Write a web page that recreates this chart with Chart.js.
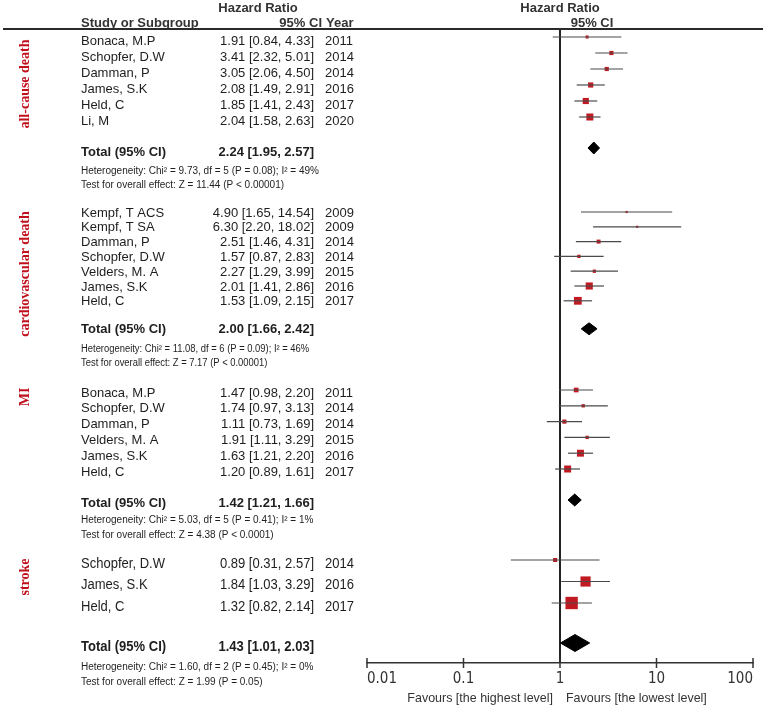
<!DOCTYPE html>
<html>
<head>
<meta charset="utf-8">
<script src="https://cdn.jsdelivr.net/npm/chart.js@4"></script>
<style>
  body { margin: 0; background: #fff; }
  canvas { display: block; }
</style>
</head>
<body>
<canvas id="forest" width="767" height="710"></canvas>
<script>
// ---- data ----
const GROUP_NAMES = ["all-cause death", "cardiovascular death", "MI", "stroke"];

const allCauseStudies = ["Bonaca, M.P", "Schopfer, D.W", "Damman, P", "James, S.K", "Held, C", "Li, M"];
const allCauseYears = [2011, 2014, 2014, 2016, 2017, 2020];
const allCauseHR = [1.91, 3.41, 3.05, 2.08, 1.85, 2.04];
const allCauseLow = [0.84, 2.32, 2.06, 1.49, 1.41, 1.58];
const allCauseHigh = [4.33, 5.01, 4.50, 2.91, 2.43, 2.63];
const allCauseWeight = [6, 11, 11, 17, 24, 31];
const allCauseTotal = [2.24, 1.95, 2.57];
const allCauseHet = "Heterogeneity: Chi² = 9.73, df = 5 (P = 0.08); I² = 49%";
const allCauseTest = "Test for overall effect: Z = 11.44 (P < 0.00001)";

const cvStudies = ["Kempf, T ACS", "Kempf, T SA", "Damman, P", "Schopfer, D.W", "Velders, M. A", "James, S.K", "Held, C"];
const cvYears = [2009, 2009, 2014, 2014, 2015, 2016, 2017];
const cvHR = [4.90, 6.30, 2.51, 1.57, 2.27, 2.01, 1.53];
const cvLow = [1.65, 2.20, 1.46, 0.87, 1.29, 1.41, 1.09];
const cvHigh = [14.54, 18.02, 4.31, 2.83, 3.99, 2.86, 2.15];
const cvWeight = [3, 3, 10, 7, 7, 32, 38];
const cvTotal = [2.00, 1.66, 2.42];
const cvHet = "Heterogeneity: Chi² = 11.08, df = 6 (P = 0.09); I² = 46%";
const cvTest = "Test for overall effect: Z = 7.17 (P < 0.00001)";

const miStudies = ["Bonaca, M.P", "Schopfer, D.W", "Damman, P", "Velders, M. A", "James, S.K", "Held, C"];
const miYears = [2011, 2014, 2014, 2015, 2016, 2017];
const miHR = [1.47, 1.74, 1.11, 1.91, 1.63, 1.20];
const miLow = [0.98, 0.97, 0.73, 1.11, 1.21, 0.89];
const miHigh = [2.20, 3.13, 1.69, 3.29, 2.20, 1.61];
const miWeight = [14, 7, 11, 7, 30, 31];
const miTotal = [1.42, 1.21, 1.66];
const miHet = "Heterogeneity: Chi² = 5.03, df = 5 (P = 0.41); I² = 1%";
const miTest = "Test for overall effect: Z = 4.38 (P < 0.0001)";

const strokeStudies = ["Schopfer, D.W", "James, S.K", "Held, C"];
const strokeYears = [2014, 2016, 2017];
const strokeHR = [0.89, 1.84, 1.32];
const strokeLow = [0.31, 1.03, 0.82];
const strokeHigh = [2.57, 3.29, 2.14];
const strokeWeight = [6, 38, 56];
const strokeTotal = [1.43, 1.01, 2.03];
const strokeHet = "Heterogeneity: Chi² = 1.60, df = 2 (P = 0.45); I² = 0%";
const strokeTest = "Test for overall effect: Z = 1.99 (P = 0.05)";

const X_TICKS = [0.01, 0.1, 1, 10, 100];
const FAVOURS_LEFT = "Favours [the highest level]";
const FAVOURS_RIGHT = "Favours [the lowest level]";

// ---- layout (row placement, not data) ----
const layout = [
  { start: 37, step: 16, totalGap: 31, textShift: 4, hetGap: 23, testGap: 37, labelY: 84, diamondH: 6, boxK: 1.26, rowFont: 13, totalFont: 13 },
  { start: 212, step: 14.8, totalGap: 28, textShift: 1, hetGap: 20, testGap: 34, labelY: 274, diamondH: 6, boxK: 1.26, rowFont: 13, totalFont: 13 },
  { start: 390, step: 15.8, totalGap: 31, textShift: 3, hetGap: 20, testGap: 35, labelY: 397, diamondH: 6, boxK: 1.26, rowFont: 13, totalFont: 13 },
  { start: 560, step: 21.5, totalGap: 40, textShift: 4, hetGap: 24, testGap: 39, labelY: 577, diamondH: 8.5, boxK: 1.65, rowFont: 14, totalFont: 14 },
];

const groups = [
  { studies: allCauseStudies, years: allCauseYears, hr: allCauseHR, lo: allCauseLow, hi: allCauseHigh, w: allCauseWeight, total: allCauseTotal, het: allCauseHet, test: allCauseTest },
  { studies: cvStudies, years: cvYears, hr: cvHR, lo: cvLow, hi: cvHigh, w: cvWeight, total: cvTotal, het: cvHet, test: cvTest },
  { studies: miStudies, years: miYears, hr: miHR, lo: miLow, hi: miHigh, w: miWeight, total: miTotal, het: miHet, test: miTest },
  { studies: strokeStudies, years: strokeYears, hr: strokeHR, lo: strokeLow, hi: strokeHigh, w: strokeWeight, total: strokeTotal, het: strokeHet, test: strokeTest },
];

const RED = "#c21a22";
const LABEL_RED = "#c0101c";
const INK = "#1e1e1e";
const SANS = "'Liberation Sans', Arial, sans-serif";

function rowY(g, i) { return layout[g].start + i * layout[g].step; }
function totalY(g) { return rowY(g, groups[g].studies.length - 1) + layout[g].totalGap; }
function ci(hr, lo, hi) { return hr.toFixed(2) + " [" + lo.toFixed(2) + ", " + hi.toFixed(2) + "]"; }

// build datasets
const datasets = [];
const boxes = [];
const boxSizes = [];
groups.forEach((grp, g) => {
  grp.studies.forEach((s, i) => {
    const y = rowY(g, i);
    datasets.push({
      data: [{ x: grp.lo[i], y: y }, { x: grp.hi[i], y: y }],
      showLine: true, borderColor: "#4a4a4a", borderWidth: 1.2, pointRadius: 0,
    });
    boxes.push({ x: grp.hr[i], y: y });
    // side of square ~ sqrt(weight)
    boxSizes.push(layout[g].boxK * Math.sqrt(grp.w[i]) / (2 * Math.SQRT1_2));
  });
  const ty = totalY(g), h = layout[g].diamondH, t = grp.total;
  datasets.push({
    data: [{ x: t[1], y: ty }, { x: t[0], y: ty - h }, { x: t[2], y: ty }, { x: t[0], y: ty + h }, { x: t[1], y: ty }],
    showLine: true, fill: "shape", backgroundColor: "#000", borderColor: "#000", borderWidth: 1, pointRadius: 0, tension: 0,
  });
});
datasets.push({
  data: boxes, pointStyle: "rect", pointRadius: boxSizes, backgroundColor: RED, borderWidth: 0, pointHoverRadius: boxSizes,
});

function txt(ctx, s, x, y, font, align, color, sx) {
  ctx.save();
  ctx.font = font;
  ctx.fillStyle = color || INK;
  ctx.textAlign = align || "left";
  ctx.textBaseline = "middle";
  ctx.translate(x, y);
  ctx.scale(sx || 1, 1);
  ctx.fillText(s, 0, 0);
  ctx.restore();
}

const forestPlugin = {
  id: "forest",
  beforeDatasetsDraw(chart) {
    const ctx = chart.ctx, xs = chart.scales.x, area = chart.chartArea;
    const x1 = xs.getPixelForValue(1);
    ctx.save();
    ctx.strokeStyle = "#222";
    ctx.lineWidth = 2;
    ctx.beginPath();
    ctx.moveTo(x1, area.top);
    ctx.lineTo(x1, area.bottom);
    ctx.stroke();
    ctx.restore();
  },
  afterDraw(chart) {
    const ctx = chart.ctx, xs = chart.scales.x, area = chart.chartArea;

    // headers
    const hb = "bold 13px " + SANS;
    txt(ctx, "Hazard Ratio", 258, 8, hb, "center", "#333");
    txt(ctx, "Study or Subgroup", 81, 23, hb, "left", "#333");
    txt(ctx, "95% CI", 322, 23, hb, "right", "#333");
    txt(ctx, "Year", 326, 23, hb, "left", "#333");
    txt(ctx, "Hazard Ratio", 560, 8, hb, "center", "#333");
    txt(ctx, "95% CI", 592, 23, hb, "center", "#333");

    ctx.save();
    ctx.strokeStyle = "#2a2a2a";
    ctx.lineWidth = 2;
    ctx.beginPath();
    ctx.moveTo(3, 29);
    ctx.lineTo(763, 29);
    ctx.stroke();
    ctx.restore();

    groups.forEach((grp, g) => {
      const L = layout[g];
      const sx = g === 3 ? 0.93 : 1;
      const rf = L.rowFont + "px " + SANS;
      grp.studies.forEach((s, i) => {
        const y = rowY(g, i) + L.textShift;
        txt(ctx, s, 81, y, rf, "left", INK, sx);
        txt(ctx, ci(grp.hr[i], grp.lo[i], grp.hi[i]), 314, y, rf, "right", INK, sx);
        txt(ctx, String(grp.years[i]), 325, y, rf, "left", INK, sx);
      });
      const ty = totalY(g);
      const tf = "bold " + L.totalFont + "px " + SANS;
      txt(ctx, "Total (95% CI)", 81, ty + L.textShift, tf, "left", INK, sx);
      txt(ctx, ci(grp.total[0], grp.total[1], grp.total[2]), 314, ty + L.textShift, tf, "right", INK, sx);
      const hsx = g === 1 ? 0.94 : 1;
      txt(ctx, grp.het, 81, ty + L.hetGap, "10px " + SANS, "left", INK, hsx);
      txt(ctx, grp.test, 81, ty + L.testGap, "10px " + SANS, "left", INK, hsx);

      ctx.save();
      ctx.translate(25, L.labelY);
      ctx.rotate(-Math.PI / 2);
      ctx.font = "bold 14px 'Liberation Serif', 'Times New Roman', serif";
      ctx.fillStyle = LABEL_RED;
      ctx.textAlign = "center";
      ctx.textBaseline = "middle";
      ctx.fillText(GROUP_NAMES[g], 0, 0);
      ctx.restore();
    });

    // tick marks crossing the axis
    ctx.save();
    ctx.strokeStyle = "#333";
    ctx.lineWidth = 1.5;
    xs.ticks.forEach(t => {
      const x = xs.getPixelForValue(t.value);
      ctx.beginPath();
      ctx.moveTo(x, area.bottom - 5);
      ctx.lineTo(x, area.bottom + 5);
      ctx.stroke();
    });
    ctx.restore();

    const x1 = xs.getPixelForValue(1);
    txt(ctx, FAVOURS_LEFT, x1 - 7, 698, "13px " + SANS, "right", "#333", 0.96);
    txt(ctx, FAVOURS_RIGHT, x1 + 6, 698, "13px " + SANS, "left", "#333", 0.96);
  },
};

new Chart(document.getElementById("forest"), {
  type: "scatter",
  data: { datasets: datasets },
  options: {
    responsive: false,
    animation: false,
    events: [],
    layout: { padding: { left: 367, right: 14, top: 30, bottom: 0 } },
    plugins: { legend: { display: false }, tooltip: { enabled: false } },
    scales: {
      x: {
        type: "logarithmic",
        min: 0.01,
        max: 100,
        afterBuildTicks: (scale) => { scale.ticks = X_TICKS.map(v => ({ value: v })); },
        afterFit: (scale) => { scale.height = 47; },
        grid: { display: false, drawTicks: false },
        border: { display: true, color: "#333", width: 1.5 },
        ticks: {
          autoSkip: false,
          maxRotation: 0,
          align: "inner",
          padding: 7,
          color: "#333",
          font: { family: "'Liberation Sans Narrow', 'DejaVu Sans Condensed', 'Liberation Sans', Arial", size: 15 },
          callback: (v) => String(v),
        },
      },
      y: { type: "linear", min: 30, max: 663, reverse: true, display: false },
    },
  },
  plugins: [forestPlugin],
});
</script>
</body>
</html>
